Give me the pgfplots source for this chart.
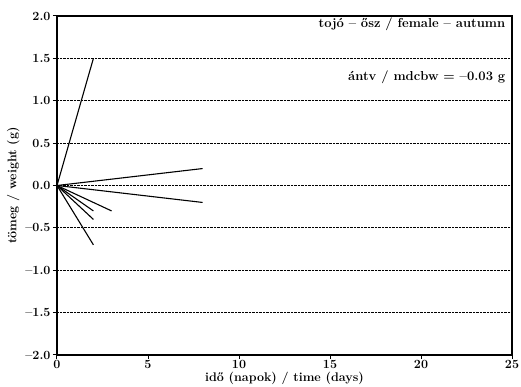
\documentclass[border=0pt]{standalone}
\usepackage{pgfplots}
\pgfplotsset{compat=1.18}
\begin{document}
\begin{tikzpicture}
\begin{axis}[
  name=ax,
  scale only axis,
  width=455pt, height=339pt,
  xmin=0, xmax=25, ymin=-2, ymax=2,
  xtick={0,5,10,15,20,25},
  ytick={-2,-1.5,-1,-0.5,0,0.5,1,1.5,2},
  yticklabels={--2.0,--1.5,--1.0,--0.5,0.0,0.5,1.0,1.5,2.0},
  xticklabels={0,5,10,15,20,25},
  tick align=outside,
  xtick pos=left, ytick pos=left,
  major tick length=4pt,
  tick style={line width=1pt, black},
  every tick label/.append style={font=\fontsize{12.5}{14}\selectfont\bfseries},
  xticklabel style={yshift=2pt},
  yticklabel style={xshift=1pt},
  label style={font=\fontsize{12.5}{14}\selectfont\bfseries},
  ymajorgrids,
  grid style={densely dotted, line width=0.8pt, black},
  axis line style={line width=1.3pt},
  xlabel={idő (napok) / time (days)},
  ylabel={tömeg / weight (g)},
  xlabel style={yshift=4pt},
  ylabel style={yshift=-1pt},
  clip=false,
]
\addplot[black, line width=1.1pt] coordinates {(0,0) (2,1.5)};
\addplot[black, line width=1.1pt] coordinates {(0,0) (8,0.2)};
\addplot[black, line width=1.1pt] coordinates {(0,0) (8,-0.2)};
\addplot[black, line width=1.1pt] coordinates {(0,0) (3,-0.3)};
\addplot[black, line width=1.1pt] coordinates {(0,0) (2,-0.3)};
\addplot[black, line width=1.1pt] coordinates {(0,0) (2,-0.4)};
\addplot[black, line width=1.1pt] coordinates {(0,0) (2,-0.7)};
\node[anchor=east, font=\fontsize{13}{15}\selectfont\bfseries] at (rel axis cs:0.993,0.975) {tojó -- ősz / female -- autumn};
\node[anchor=east, font=\fontsize{13}{15}\selectfont\bfseries] at (rel axis cs:0.993,0.82) {ántv / mdcbw = --0.03 g};
\end{axis}
\pgfresetboundingbox
\path ([xshift=-57pt,yshift=-32pt]ax.south west) rectangle ([xshift=9pt,yshift=16pt]ax.north east);
\end{tikzpicture}
\end{document}
